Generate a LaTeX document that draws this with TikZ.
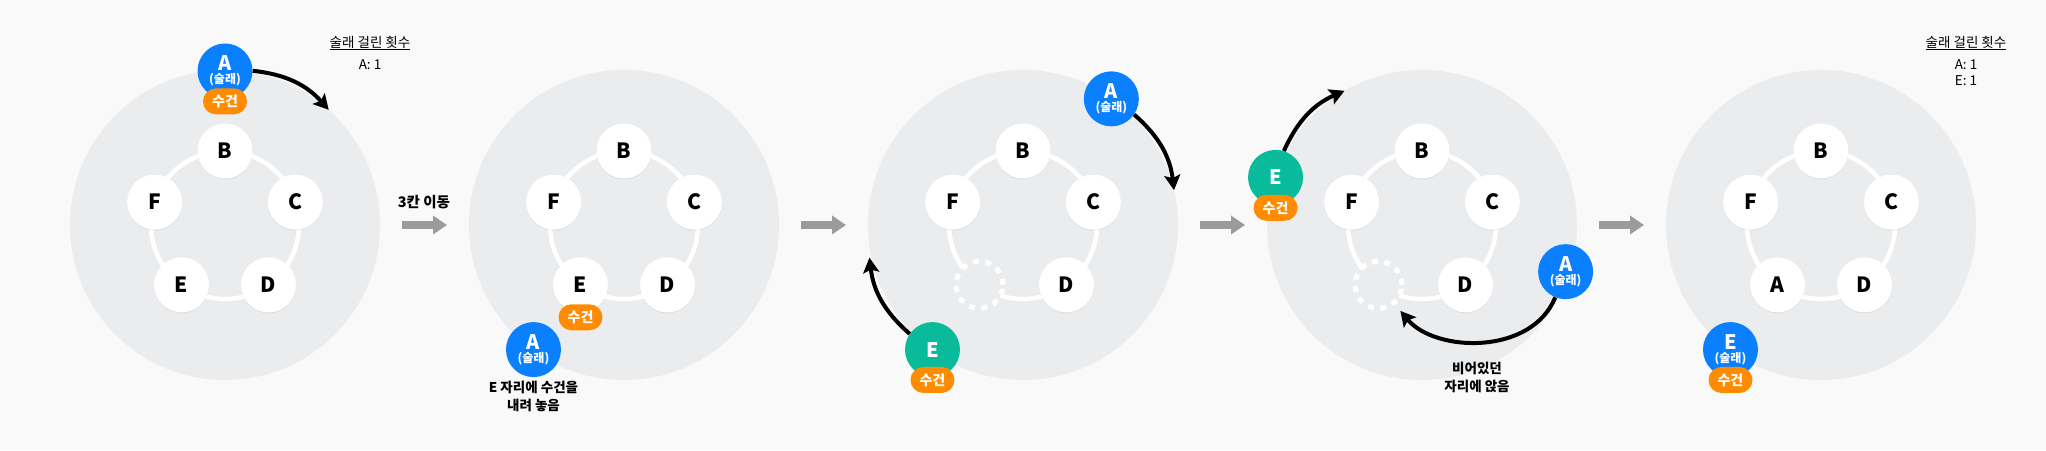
\documentclass[tikz,border=0pt]{standalone}
\usepackage{fontspec}
\setmainfont{Noto Sans CJK KR}
\usepackage{tikz}
\usetikzlibrary{positioning,arrows.meta,shadows}

\definecolor{backdrop}{HTML}{F9F9F9}
\definecolor{panelgray}{HTML}{EBECEE}
\definecolor{taggerblue}{HTML}{0A80FF}
\definecolor{runnergreen}{HTML}{0ABB9B}
\definecolor{towelorange}{HTML}{FF8C00}
\definecolor{stepgray}{HTML}{9B9B9B}

\begin{document}
\begin{tikzpicture}
    [ x = 1pt, y = 1pt
    , panel/.style =
      { fill = panelgray }
    , ring/.style =
      { draw = white, line width = 4.5pt }
    , seat/.style =
      { circle, fill = white, minimum size = 55pt, inner sep = 0pt
      , font = \bfseries\fontsize{21}{21}\selectfont
      , drop shadow = {shadow xshift = 0pt, shadow yshift = -1pt, opacity = .12} }
    , emptyseat/.style =
      { circle, draw = white, fill = panelgray, line width = 5pt
      , dash pattern = on 6pt off 6.5pt, minimum size = 47pt, inner sep = 0pt }
    , tagger/.style =
      { circle, fill = taggerblue, text = white, minimum size = 55pt, inner sep = 0pt
      , align = center, font = \bfseries\fontsize{20}{17}\selectfont }
    , runner/.style =
      { tagger, fill = runnergreen }
    , towel/.style =
      { rectangle, rounded corners = 13pt, fill = towelorange, text = white
      , minimum width = 44pt, minimum height = 26pt, inner sep = 0pt
      , font = \bfseries\fontsize{14}{14}\selectfont }
    , move/.style =
      { draw, line width = 4pt, -{Stealth[length = 15pt, width = 16pt, inset = 3pt]} }
    , next/.style =
      { draw = stepgray, line width = 8pt, -{Triangle[length = 14pt, width = 18pt]} }
    , caption/.style =
      { align = center, inner sep = 0pt, font = \bfseries\fontsize{13.5}{18}\selectfont }
    , tally/.style =
      { align = center, inner sep = 0pt, font = \fontsize{13.5}{16}\selectfont }
    ]
    \fill [backdrop] (0,0) rectangle (2046,450);

    % 1: A holds the towel
    \begin{scope}[shift = {(225,225)}]
    \fill [panel] (0,0) circle [radius = 155pt];
    \draw [ring] (0,0) circle [radius = 74pt];
    \node [seat] (b1) at (90:74) {B};
    \node [seat] (c1) at (18:74) {C};
    \node [seat] (d1) at (-54:74) {D};
    \node [seat] (e1) at (-126:74) {E};
    \node [seat] (f1) at (162:74) {F};
    \node [tagger] (tag1) at (90:154) {A\\[-4pt]{\fontsize{12}{12}\selectfont (술래)}};
    \node [towel] (towel1) [below=-10.5pt of tag1] {수건};
    \coordinate (m1) at (48:155);
    \draw [move] (tag1) to [bend left=21] (m1);
    \node [tally] (title1) at (145,182) {\underline{술래 걸린 횟수}};
    \node [tally] (count1) at (145,160) {A: 1};
    \end{scope}

    % 2: towel dropped behind E
    \begin{scope}[shift = {(624,225)}]
    \fill [panel] (0,0) circle [radius = 155pt];
    \draw [ring] (0,0) circle [radius = 74pt];
    \node [seat] (b2) at (90:74) {B};
    \node [seat] (c2) at (18:74) {C};
    \node [seat] (d2) at (-54:74) {D};
    \node [seat] (e2) at (-126:74) {E};
    \node [seat] (f2) at (162:74) {F};
    \node [towel] (towel2) [below=-8.5pt of e2] {수건};
    \node [tagger] (tag2) at (234:154) {A\\[-4pt]{\fontsize{12}{12}\selectfont (술래)}};
    \node [caption] (drop2) [below=4pt of tag2] {E 자리에 수건을\\내려 놓음};
    \end{scope}

    % 3: E gets up and chases
    \begin{scope}[shift = {(1023,225)}]
    \fill [panel] (0,0) circle [radius = 155pt];
    \draw [ring] (0,0) circle [radius = 74pt];
    \node [seat] (b3) at (90:74) {B};
    \node [seat] (c3) at (18:74) {C};
    \node [seat] (d3) at (-54:74) {D};
    \node [emptyseat] (gap3) at (-126:74) {};
    \node [seat] (f3) at (162:74) {F};
    \node [tagger] (tag3) at (55:154) {A\\[-4pt]{\fontsize{12}{12}\selectfont (술래)}};
    \coordinate (m3) at (13:155);
    \draw [move] (tag3) to [bend left=21] (m3);
    \node [runner] (run3) at (234:154) {E};
    \node [towel] (towel3) [below=-10.5pt of run3] {수건};
    \coordinate (n3) at (192:157);
    \draw [move] (run3) to [bend left=21] (n3);
    \end{scope}

    % 4: A takes the empty seat
    \begin{scope}[shift = {(1422,225)}]
    \fill [panel] (0,0) circle [radius = 155pt];
    \draw [ring] (0,0) circle [radius = 74pt];
    \node [seat] (b4) at (90:74) {B};
    \node [seat] (c4) at (18:74) {C};
    \node [seat] (d4) at (-54:74) {D};
    \node [emptyseat] (gap4) at (-126:74) {};
    \node [seat] (f4) at (162:74) {F};
    \node [runner] (run4) at (162:154) {E};
    \node [towel] (towel4) [below=-10.5pt of run4] {수건};
    \coordinate (n4) at (120:155);
    \draw [move] (run4) to [bend left=21] (n4);
    \node [tagger] (tag4) at (-18:151) {A\\[-4pt]{\fontsize{12}{12}\selectfont (술래)}};
    \draw [move, shorten >=8pt] (tag4) to [out=-112, in=-50] (gap4);
    \node [caption] (sit4) at (55,-152) {비어있던\\자리에 앉음};
    \end{scope}

    % 5: E is the new tagger
    \begin{scope}[shift = {(1821,225)}]
    \fill [panel] (0,0) circle [radius = 155pt];
    \draw [ring] (0,0) circle [radius = 74pt];
    \node [seat] (b5) at (90:74) {B};
    \node [seat] (c5) at (18:74) {C};
    \node [seat] (d5) at (-54:74) {D};
    \node [seat] (a5) at (-126:74) {A};
    \node [seat] (f5) at (162:74) {F};
    \node [tagger] (tag5) at (234:154) {E\\[-4pt]{\fontsize{12}{12}\selectfont (술래)}};
    \node [towel] (towel5) [below=-10.5pt of tag5] {수건};
    \node [tally] (title5) at (145,182) {\underline{술래 걸린 횟수}};
    \node [tally] (count5) at (145,152) {A: 1\\E: 1};
    \end{scope}

    % steps between the panels
    \coordinate (go1) at (402,225);
    \coordinate (to1) at (447,225);
    \coordinate (go2) at (801,225);
    \coordinate (to2) at (846,225);
    \coordinate (go3) at (1200,225);
    \coordinate (to3) at (1245,225);
    \coordinate (go4) at (1599,225);
    \coordinate (to4) at (1644,225);
    \draw [next] (go1) -- (to1);
    \draw [next] (go2) -- (to2);
    \draw [next] (go3) -- (to3);
    \draw [next] (go4) -- (to4);
    \node [caption, font = \bfseries\fontsize{14.5}{14}\selectfont] (hop) at (424,248) {3칸 이동};
\end{tikzpicture}
\end{document}
